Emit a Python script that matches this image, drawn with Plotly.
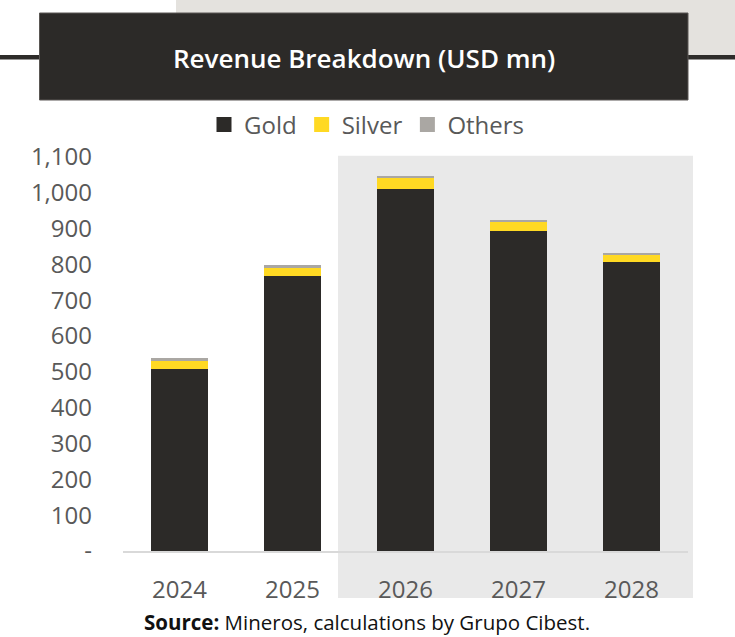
import plotly.graph_objects as go

# ---- data ----
years = ["2024", "2025", "2026", "2027", "2028"]
gold = [508, 769, 1011, 893, 807]
silver = [22, 21, 31, 25, 19]
others = [8, 9, 6, 6, 6]
series_names = ["Gold", "Silver", "Others"]
series_colors = ["#2c2a28", "#ffd923", "#aaa7a3"]
y_tick_vals = [0, 100, 200, 300, 400, 500, 600, 700, 800, 900, 1000, 1100]
y_tick_text = ["-", "100", "200", "300", "400", "500", "600", "700", "800", "900", "1,000", "1,100"]
title_text = "Revenue Breakdown (USD mn)"
source_text = "<b>Source:</b> Mineros, calculations by Grupo Cibest."

# ---- layout geometry (pixels) ----
W, H = 735, 637
L, R, T, B = 123, 47, 155, 86
PW, PH = W - L - R, H - T - B
unit = 394 / 1100.0  # pixels per USD mn


def px_x(p):
    return (p - L) / PW


def px_y(p):
    return (H - B - p) / PH


fig = go.Figure()
for name, vals, color in zip(series_names, [gold, silver, others], series_colors):
    fig.add_trace(go.Bar(x=years, y=vals, name=name, marker_color=color,
                         marker_line_width=0, showlegend=False))
# legend proxies with square markers
for name, color in zip(series_names, series_colors):
    fig.add_trace(go.Scatter(x=[None], y=[None], mode="markers", name=name,
                             marker=dict(symbol="square", size=15, color=color)))

shapes = [
    # header light-grey background
    dict(type="rect", xref="paper", yref="paper", x0=px_x(176), x1=px_x(735),
         y0=px_y(57), y1=px_y(0), fillcolor="#e4e2de", line_width=0, layer="below"),
    # horizontal dark rule
    dict(type="rect", xref="paper", yref="paper", x0=px_x(0), x1=px_x(735),
         y0=px_y(59.5), y1=px_y(55), fillcolor="#2e2c2a", line_width=0, layer="below"),
    # dark title box
    dict(type="rect", xref="paper", yref="paper", x0=px_x(39.5), x1=px_x(688),
         y0=px_y(100), y1=px_y(13), fillcolor="#2c2a28",
         line=dict(color="#5a5754", width=1), layer="below"),
    # forecast shading
    dict(type="rect", xref="paper", yref="paper", x0=px_x(338), x1=px_x(693),
         y0=px_y(598), y1=px_y(155.7), fillcolor="#e9e9e9", line_width=0, layer="below"),
]

fig.update_layout(
    width=W, height=H,
    margin=dict(l=L, r=R, t=T, b=B, pad=0),
    paper_bgcolor="white", plot_bgcolor="rgba(0,0,0,0)",
    barmode="stack", bargap=0.5,
    font=dict(family="Open Sans", color="#595959"),
    shapes=shapes,
    showlegend=True,
    legend=dict(orientation="h", x=px_x(204), y=px_y(125), xanchor="left", yanchor="middle",
                font=dict(size=24, color="#595959"), bgcolor="rgba(0,0,0,0)",
                itemclick=False, traceorder="normal"),
    annotations=[
        dict(text=title_text, xref="paper", yref="paper", x=px_x(364), y=px_y(58),
             xanchor="center", yanchor="middle", showarrow=False,
             font=dict(family="Open Sans", size=26, color="white", weight=600)),
        dict(text=source_text, xref="paper", yref="paper", x=px_x(367), y=px_y(622),
             xanchor="center", yanchor="middle", showarrow=False,
             font=dict(family="Open Sans", size=20.5, color="#111111")),
    ],
    xaxis=dict(showline=True, linecolor="#d9d9d9", linewidth=2, showgrid=False,
               zeroline=False, ticks="", tickfont=dict(size=24, color="#595959"),
               ticklabelstandoff=16, fixedrange=True),
    yaxis=dict(range=[0, PH / unit], tickvals=y_tick_vals, ticktext=y_tick_text,
               showgrid=False, zeroline=False, showline=False, ticks="",
               tickfont=dict(size=24, color="#595959"), ticklabelstandoff=30,
               fixedrange=True),
)

fig.write_html("out.html")
